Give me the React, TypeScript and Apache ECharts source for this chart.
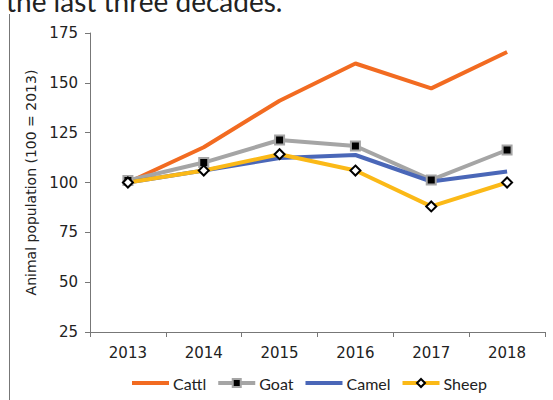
import React, { useEffect, useRef } from "react";
import * as echarts from "echarts";

const years = ["2013", "2014", "2015", "2016", "2017", "2018"];
const cattle = [100, 117.7, 141, 159.7, 147.2, 165.5];
const goat = [101, 110, 121.3, 118.3, 101.3, 116.3];
const camel = [100, 106, 112.3, 113.8, 100.5, 105.5];
const sheep = [100, 106, 114.2, 106, 88, 100];
const seriesNames = ["Cattl", "Goat", "Camel", "Sheep"];

export default function App() {
  const ref = useRef<HTMLDivElement>(null);
  useEffect(() => {
    const chart = echarts.init(ref.current!, null, { renderer: "svg" });
    const font = "'DejaVu Sans', Verdana, sans-serif";
    chart.setOption({
      animation: false,
      backgroundColor: "#fff",
      graphic: [
        {
          type: "text",
          x: 6,
          y: -13,
          style: {
            text: "the last three decades.",
            font: "28px Lato, sans-serif",
            fill: "#222",
            verticalAlign: "top",
          },
        },
        {
          type: "line",
          shape: { x1: 9.5, y1: 14, x2: 9.5, y2: 400 },
          style: { stroke: "#777", lineWidth: 1 },
        },
      ],
      grid: { left: 90, right: 8, top: 33, bottom: 68 },
      legend: {
        bottom: 4,
        left: 125,
        itemWidth: 37,
        itemHeight: 10,
        itemGap: 10,
        lineStyle: { width: 4 },
        textStyle: { fontFamily: "Lato, sans-serif", fontSize: 16, color: "#222", padding: [0, 0, 0, -1] },
        data: [
          { name: seriesNames[0], itemStyle: { opacity: 0 } },
          { name: seriesNames[1] },
          { name: seriesNames[2], itemStyle: { opacity: 0 } },
          { name: seriesNames[3] },
        ],
      },
      xAxis: {
        type: "category",
        data: years,
        boundaryGap: true,
        axisLine: { lineStyle: { color: "#777" } },
        axisTick: { show: true, length: 5, lineStyle: { color: "#777" } },
        axisLabel: { color: "#222", fontSize: 15, fontFamily: font, margin: 13 },
      },
      yAxis: {
        type: "value",
        min: 25,
        max: 175,
        interval: 25,
        name: "Animal population (100 = 2013)",
        nameLocation: "middle",
        nameGap: 52,
        nameTextStyle: { color: "#222", fontSize: 14, fontFamily: font },
        axisLine: { show: true, lineStyle: { color: "#777" } },
        axisTick: { show: true, length: 5, lineStyle: { color: "#777" } },
        axisLabel: { color: "#222", fontSize: 15, fontFamily: font, margin: 12 },
        splitLine: { show: false },
      },
      series: [
        {
          name: seriesNames[0],
          type: "line",
          data: cattle,
          symbol: "none",
          lineStyle: { color: "#F26B21", width: 4 },
          itemStyle: { color: "#F26B21" },
        },
        {
          name: seriesNames[1],
          type: "line",
          data: goat,
          symbol: "rect",
          symbolSize: 9,
          lineStyle: { color: "#A5A5A5", width: 4 },
          itemStyle: { color: "#000", borderColor: "#A5A5A5", borderWidth: 2 },
        },
        {
          name: seriesNames[2],
          type: "line",
          data: camel,
          symbol: "none",
          lineStyle: { color: "#4A67B8", width: 4 },
          itemStyle: { color: "#4A67B8" },
        },
        {
          name: seriesNames[3],
          type: "line",
          data: sheep,
          symbol: "diamond",
          symbolSize: 10,
          lineStyle: { color: "#FBB917", width: 4 },
          itemStyle: { color: "#fff", borderColor: "#000", borderWidth: 2 },
        },
      ],
    });
    return () => chart.dispose();
  }, []);
  return <div ref={ref} style={{ width: 553, height: 400, position: "absolute", left: 0, top: 0 }} />;
}
